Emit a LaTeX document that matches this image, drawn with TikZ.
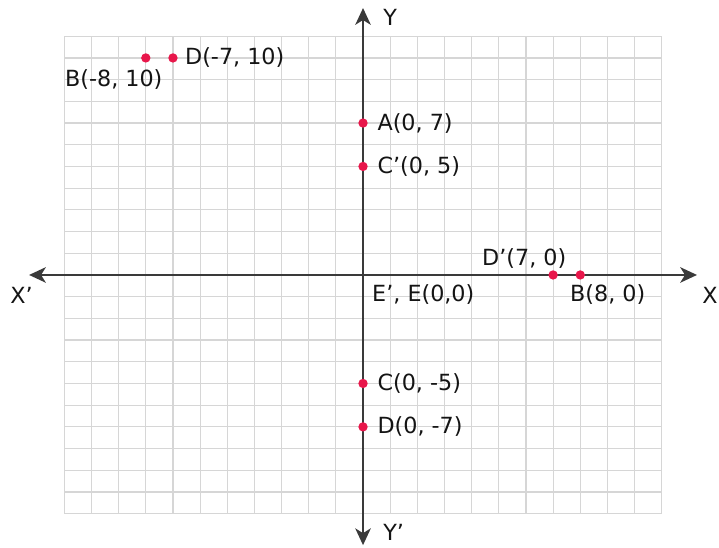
\documentclass[tikz,border=0pt]{standalone}
\usepackage{fontspec}
\setmainfont{DejaVu Sans}
\usetikzlibrary{arrows.meta,positioning}
\definecolor{ptred}{HTML}{E8174B}
\definecolor{axisgray}{HTML}{3A3A3A}
\tikzset{
  gridline/.style={draw=black!16, line width=1pt},
  axis/.style={draw=axisgray, line width=2.4pt, {Stealth[length=5mm,width=4.6mm,inset=1.4mm]}-{Stealth[length=5mm,width=4.6mm,inset=1.4mm]}},
  pt/.style={circle, fill=ptred, inner sep=0pt, minimum size=8pt},
  lbl/.style={font=\fontsize{19}{22}\selectfont, text=black!92, inner sep=0pt, anchor=west}
}

\begin{document}
\begin{tikzpicture}[x=0.8145cm, y=0.651cm]
  \useasboundingbox (-13.37,-12.58) rectangle (13.11,12.67);
  \foreach \i in {-11,...,11} {
    \draw[gridline] (\i,-11) -- (\i,11);
    \draw[gridline] (-11,\i) -- (11,\i);
  }

  \coordinate (xl) at (-12.3,0);
  \coordinate (xr) at (12.3,0);
  \coordinate (yt) at (0,12.3);
  \coordinate (yb) at (0,-12.45);
  \draw[axis] (xl) -- (xr);
  \draw[axis] (yb) -- (yt);

  \node[lbl] (lX) at (12.49,-0.92) {X};
  \node[lbl] (lXp) at (-13.0,-0.92) {X’};
  \node[lbl] (lY) at (0.74,11.86) {Y};
  \node[lbl] (lYp) at (0.74,-11.85) {Y’};

  \node[pt] (pB) at (-8,10) {};
  \node[pt] (pD) at (-7,10) {};
  \node[pt] (pA) at (0,7) {};
  \node[pt] (pCp) at (0,5) {};
  \node[pt] (pDp) at (7,0) {};
  \node[pt] (pBx) at (8,0) {};
  \node[pt] (pC) at (0,-5) {};
  \node[pt] (pDy) at (0,-7) {};

  \node[lbl] (lB) at (-10.98,9.0) {B(-8, 10)};
  \node[lbl, right=6pt of pD] (lD) {D(-7, 10)};
  \node[lbl, right=8pt of pA] (lA) {A(0, 7)};
  \node[lbl, right=8pt of pCp] (lCp) {C’(0, 5)};
  \node[lbl] (lDp) at (4.38,0.78) {D’(7, 0)};
  \node[lbl] (lBx) at (7.62,-0.92) {B(8, 0)};
  \node[lbl] (lE) at (0.33,-0.92) {E’, E(0,0)};
  \node[lbl, right=8pt of pC] (lC) {C(0, -5)};
  \node[lbl, right=8pt of pDy] (lDy) {D(0, -7)};
\end{tikzpicture}
\end{document}
